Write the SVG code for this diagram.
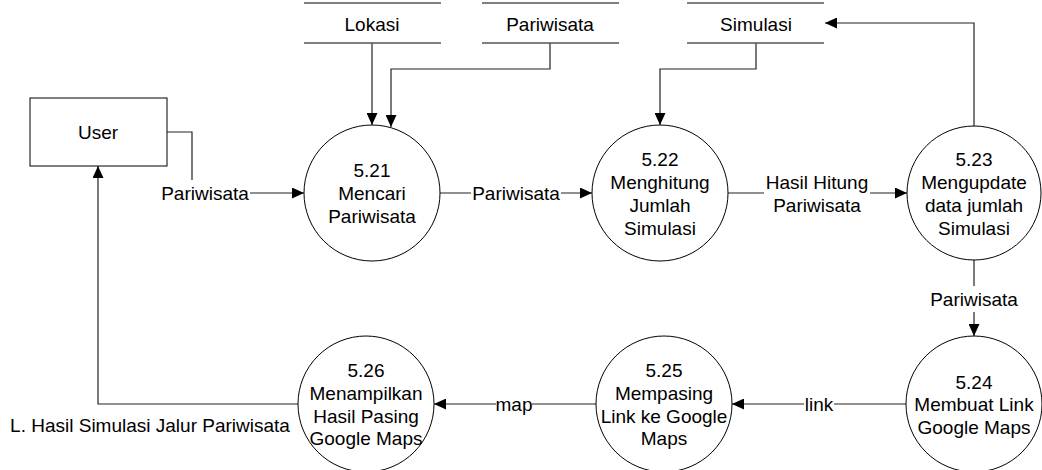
<svg xmlns="http://www.w3.org/2000/svg" width="1042" height="470" viewBox="0 0 1042 470">
<style>
text{font-family:"Liberation Sans",Arial,sans-serif;font-size:19px;fill:#000;text-anchor:middle}
.proc{fill:#fff;stroke:#000;stroke-width:1}
.ent{fill:#fff;stroke:#000;stroke-width:1}
.store{stroke:#555;stroke-width:1.5;fill:none}
.flow{fill:none;stroke:#222;stroke-width:1.2;marker-end:url(#ah)}
.bg{fill:#fff;stroke:none}
</style>
<defs>
<marker id="ah" markerUnits="userSpaceOnUse" markerWidth="12" markerHeight="11" refX="12" refY="5.5" orient="auto">
<path d="M0,0 L12,5.5 L0,11 z" fill="#000"/>
</marker>
</defs>
<rect width="1042" height="470" fill="#fff"/>

<g id="connectors">
<path class="flow" d="M167,132 H192 V193 H304"/>
<path class="flow" d="M372,43 V125"/>
<path class="flow" d="M550,43 V69 H391 V127"/>
<path class="flow" d="M440,193 H592"/>
<path class="flow" d="M756,43 V69 H660 V125"/>
<path class="flow" d="M728,193 H907"/>
<path class="flow" d="M974,126 V23 H825"/>
<path class="flow" d="M974,260 V336"/>
<path class="flow" d="M906,404 H732"/>
<path class="flow" d="M596,404 H434"/>
<path class="flow" d="M298,404 H98 V166"/>
<rect class="bg" x="160" y="180" width="90" height="26"/>
<text x="205" y="199.8">Pariwisata</text>
<rect class="bg" x="471" y="180" width="90" height="26"/>
<text x="516" y="199.8">Pariwisata</text>
<rect class="bg" x="764" y="170" width="106" height="47"/>
<text x="817" y="188.8">Hasil Hitung</text>
<text x="817" y="211.8">Pariwisata</text>
<rect class="bg" x="929" y="286" width="90" height="26"/>
<text x="974" y="305.8">Pariwisata</text>
<rect class="bg" x="804" y="391" width="30" height="26"/>
<text x="819" y="410.8">link</text>
<rect class="bg" x="496" y="391" width="36" height="26"/>
<text x="514" y="410.8">map</text>
<text x="150" y="431.8">L. Hasil Simulasi Jalur Pariwisata</text>
</g>

<g id="user">
<rect class="ent" x="30" y="98" width="137" height="68"/>
<text x="98" y="138.8">User</text>
</g>

<g id="store-lokasi">
<line class="store" x1="304" y1="3" x2="441" y2="3"/>
<line class="store" x1="304" y1="43" x2="441" y2="43"/>
<text x="372" y="30.8">Lokasi</text>
</g>
<g id="store-pariwisata">
<line class="store" x1="482" y1="3" x2="619" y2="3"/>
<line class="store" x1="482" y1="43" x2="619" y2="43"/>
<text x="550" y="30.8">Pariwisata</text>
</g>
<g id="store-simulasi">
<line class="store" x1="687" y1="3" x2="824" y2="3"/>
<line class="store" x1="687" y1="43" x2="824" y2="43"/>
<text x="756" y="30.8">Simulasi</text>
</g>

<g id="p521">
<circle class="proc" cx="372" cy="193" r="68"/>
<text x="372" y="176.8">5.21</text>
<text x="372" y="199.8">Mencari</text>
<text x="372" y="222.8">Pariwisata</text>
</g>
<g id="p522">
<circle class="proc" cx="660" cy="193" r="68"/>
<text x="660" y="165.8">5.22</text>
<text x="660" y="188.8">Menghitung</text>
<text x="660" y="211.8">Jumlah</text>
<text x="660" y="234.8">Simulasi</text>
</g>
<g id="p523">
<circle class="proc" cx="974" cy="193" r="67"/>
<text x="974" y="165.8">5.23</text>
<text x="974" y="188.8">Mengupdate</text>
<text x="974" y="211.8">data jumlah</text>
<text x="974" y="234.8">Simulasi</text>
</g>
<g id="p524">
<circle class="proc" cx="974" cy="404" r="68"/>
<text x="974" y="388.8">5.24</text>
<text x="974" y="410.8">Membuat Link</text>
<text x="974" y="433.8">Google Maps</text>
</g>
<g id="p525">
<circle class="proc" cx="664" cy="404" r="68"/>
<text x="664" y="376.8">5.25</text>
<text x="664" y="399.8">Mempasing</text>
<text x="664" y="422.8">Link ke Google</text>
<text x="664" y="444.8">Maps</text>
</g>
<g id="p526">
<circle class="proc" cx="366" cy="404" r="68"/>
<text x="366" y="376.8">5.26</text>
<text x="366" y="399.8">Menampilkan</text>
<text x="366" y="422.8">Hasil Pasing</text>
<text x="366" y="444.8">Google Maps</text>
</g>
</svg>
